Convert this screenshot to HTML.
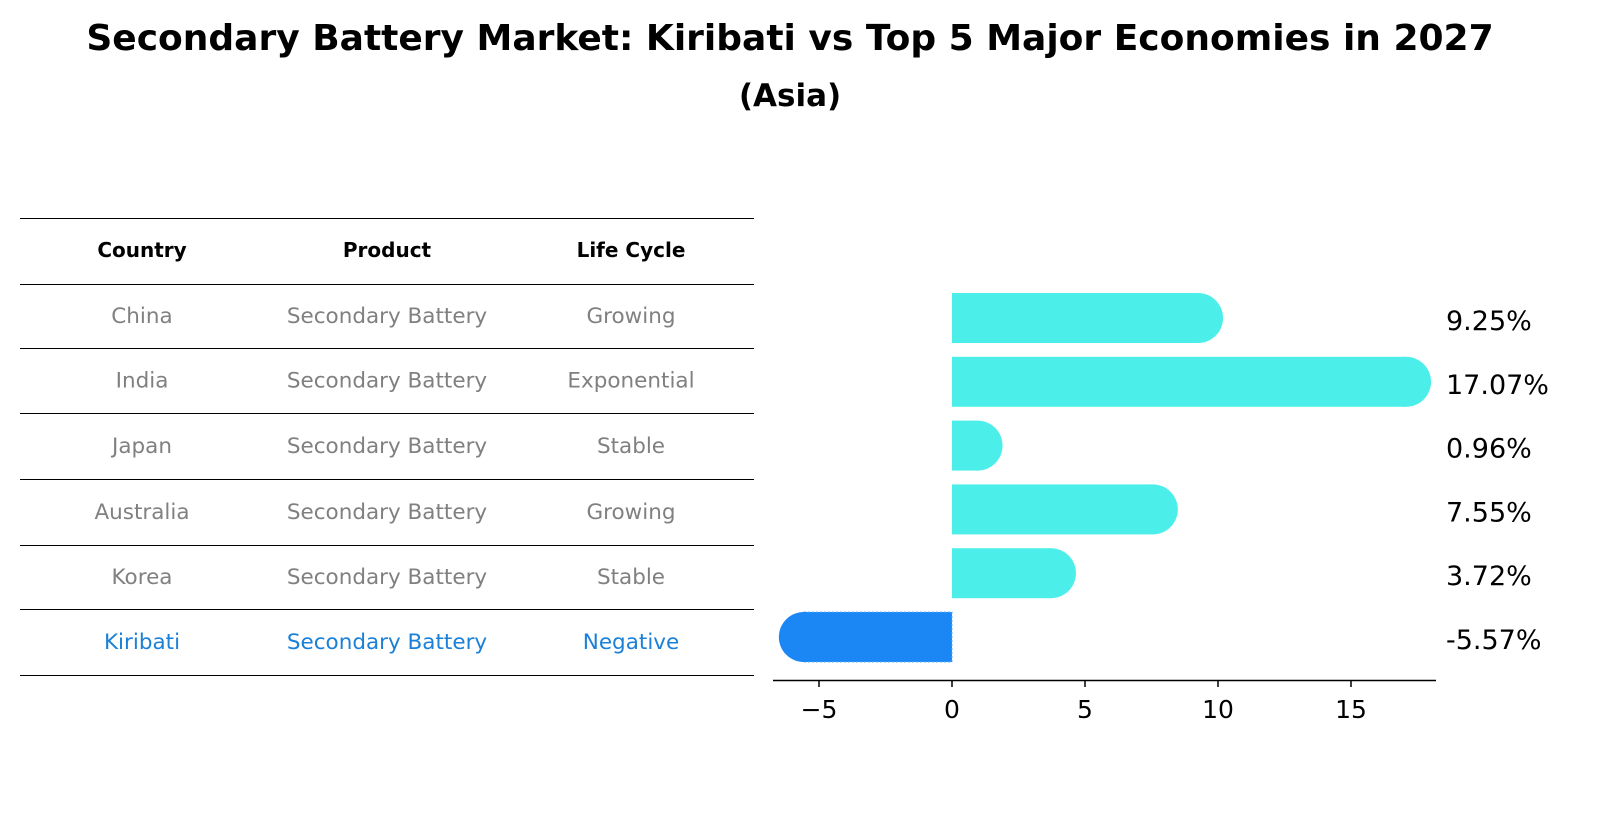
<!DOCTYPE html>
<html><head><meta charset="utf-8"><style>
body{margin:0;background:#fff;font-family:"Liberation Sans","DejaVu Sans",sans-serif}
svg{display:block}
</style></head><body>
<svg width="1604" height="823" xmlns="http://www.w3.org/2000/svg" font-family="DejaVu Sans, Liberation Sans, sans-serif">
<text x="790" y="50" text-anchor="middle" font-size="36" font-weight="bold">Secondary Battery Market: Kiribati vs Top 5 Major Economies in 2027</text>
<text x="790" y="106" text-anchor="middle" font-size="31" font-weight="bold">(Asia)</text>
<g id="table"></g>
<g id="chart"></g>
</svg>
<script>
const countries=["China","India","Japan","Australia","Korea","Kiribati"];
const lifeCycles=["Growing","Exponential","Stable","Growing","Stable","Negative"];
const values=[9.25,17.07,0.96,7.55,3.72,-5.57];
const ticks=[-5,0,5,10,15];
const NS="http://www.w3.org/2000/svg";
function mk(tag,attrs,parent,text){const e=document.createElementNS(NS,tag);for(const k in attrs)e.setAttribute(k,attrs[k]);if(text!==undefined)e.textContent=text;parent.appendChild(e);return e;}
const table=document.getElementById('table');
const lineYs=[218,284,348,413,479,545,609,675];
lineYs.forEach(y=>{const l=mk('line',{x1:20,x2:754,y1:y+0.5,y2:y+0.5,stroke:'#000','stroke-width':1,'shape-rendering':'crispEdges'},table);

});
const colX=[142,387,631];
["Country","Product","Life Cycle"].forEach((h,i)=>{const t=mk('text',{x:colX[i],y:257,'text-anchor':'middle','font-size':20,'font-weight':'bold'},table,h);

});
countries.forEach((c,r)=>{const y=(lineYs[r+1]+lineYs[r+2])/2+7;const col=c==="Kiribati"?"#1a80d8":"#808080";
[c,"Secondary Battery",lifeCycles[r]].forEach((v,i)=>{const t=mk('text',{x:colX[i],y:y,'text-anchor':'middle','font-size':21.5,fill:col},table,v);

});});
const chart=document.getElementById('chart');
const x0=952,ppu=26.6;
const xs=v=>x0+v*ppu;
const rowY=r=>318+r*63.8;
const h=50,rad=25;
values.forEach((v,r)=>{const cy=rowY(r);const neg=v<0;const fill=neg?"#1a87f5":"#4ceeea";
const xe=xs(v);const a=Math.min(x0,xe),b=Math.max(x0,xe);
const rect=mk('rect',{x:a,y:cy-h/2,width:b-a,height:h,fill:fill},chart);


if(neg){rect.setAttribute('stroke','#5ab0ff');rect.setAttribute('stroke-dasharray','2 2');}
const cap=mk('circle',{cx:xe,cy:cy,r:rad,fill:fill},chart);


const lbl=mk('text',{x:1446,y:cy+12,'font-size':27},chart,v.toFixed(2)+'%');

});
const ax=mk('line',{x1:773,x2:1436,y1:680.5,y2:680.5,stroke:'#000','stroke-width':1.5},chart);


ticks.forEach(t=>{const x=xs(t);
const tk=mk('line',{x1:x,x2:x,y1:680,y2:687,stroke:'#000','stroke-width':1.5},chart);


const tl=mk('text',{x:x,y:718,'text-anchor':'middle','font-size':25},chart,t<0?'\u2212'+Math.abs(t):String(t));

});
</script>
</body></html>
